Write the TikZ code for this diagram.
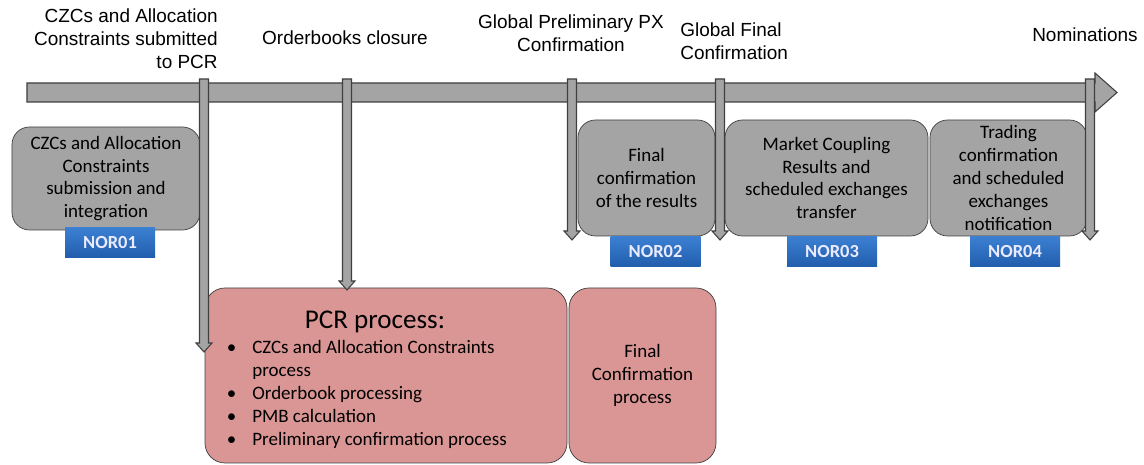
\documentclass[tikz,border=0pt]{standalone}
\usepackage{fontspec}
\setmainfont{Carlito}
\newfontfamily\arial{Liberation Sans}
\usetikzlibrary{positioning}
\definecolor{barGray}{HTML}{A4A4A4}
\definecolor{edgeGray}{HTML}{3F3F3F}
\definecolor{pcrPink}{HTML}{D99694}
\definecolor{norBlue}{HTML}{2E6DBE}
\definecolor{norTop}{HTML}{3C80D2}
\definecolor{norBottom}{HTML}{225DAD}

\begin{document}
\begin{tikzpicture}[
    stage/.style={draw=edgeGray, fill=barGray, rounded corners=0.35cm, align=center, inner sep=0pt, font=\fontsize{10.8}{13}\selectfont},
    proc/.style={draw=edgeGray, fill=pcrPink, rounded corners=0.4cm, inner sep=0pt, minimum height=3.5cm},
    tag/.style={top color=norTop, bottom color=norBottom, text=white!92!blue, inner sep=0pt, minimum width=1.8cm, minimum height=0.6cm, font=\bfseries\fontsize{10.5}{12}\selectfont},
    event/.style={inner sep=0pt, font=\arial\fontsize{10.8}{13}\selectfont},
    marker/.style={draw=edgeGray, fill=barGray, line width=0.6pt}
  ]
  \useasboundingbox (0,0) rectangle (22.88,9.3);

  % time line
  \draw[marker] (0.54,7.64) -- (21.9,7.64) -- (21.9,7.84) -- (22.34,7.45) -- (21.9,7.06) -- (21.9,7.26) -- (0.54,7.26) -- cycle;

  % events
  \node[event, align=right, anchor=east] (submitted) at (4.36,8.53) {CZCs and Allocation\\Constraints submitted\\to PCR};
  \node[event] (closure) at (6.9,8.54) {Orderbooks closure};
  \node[event, align=center] (prelim) at (11.42,8.63) {Global Preliminary PX\\Confirmation};
  \node[event, align=left, anchor=west] (globalfinal) at (13.6,8.48) {Global Final\\Confirmation};
  \node[event] (nominations) at (21.7,8.6) {Nominations};

  % stages
  \node[stage, minimum width=3.76cm, minimum height=2.06cm] (submission) at (2.12,5.73) {CZCs and Allocation\\Constraints\\submission and\\integration};
  \node[stage, minimum width=2.74cm, minimum height=2.32cm] (confirm) at (12.93,5.74) {Final\\confirmation\\of the results};
  \node[stage, minimum width=4.06cm, minimum height=2.32cm] (transfer) at (16.53,5.74) {Market Coupling\\Results and\\scheduled exchanges\\transfer};
  \node[stage, minimum width=3.14cm, minimum height=2.32cm] (notify) at (20.17,5.74) {Trading\\confirmation\\and scheduled\\exchanges\\notification};

  \node[tag] (nor1) at (2.2,4.45) {NOR01};
  \node[tag] (nor2) at (13.11,4.27) {NOR02};
  \node[tag] (nor3) at (16.64,4.27) {NOR03};
  \node[tag] (nor4) at (20.3,4.27) {NOR04};

  % processes
  \node[proc, minimum width=7.24cm] (pcr) at (7.72,1.79) {};
  \node[proc, minimum width=2.94cm, align=center, font=\fontsize{10.8}{13}\selectfont] (finalproc) at (12.85,1.79) {Final\\Confirmation\\process};
  \node[font=\fontsize{15.4}{18}\selectfont] (pcrtitle) at (7.5,2.86) {PCR process:};
  \node[anchor=north west, inner sep=0pt, font=\fontsize{10.8}{13}\selectfont] (pcritems) at (4.53,2.55) {%
    \begin{tabular}{@{}l@{}l@{}}
      \makebox[0.51cm][l]{\textbullet} & CZCs and Allocation Constraints\\
       & process\\
      \textbullet & Orderbook processing\\
      \textbullet & PMB calculation\\
      \textbullet & Preliminary confirmation process
    \end{tabular}};

  % markers
  \foreach \name/\x/\y in {czc/4.08/2.26, obk/6.94/3.5, gpx/11.44/4.5, gfc/14.4/4.5, nom/21.8/4.5} {
    \coordinate (\name-top) at (\x,7.72);
    \coordinate (\name-tip) at (\x,\y);
    \draw[marker] ([xshift=-0.09cm]\name-top) -- ([xshift=-0.09cm,yshift=0.18cm]\name-tip) -- ([xshift=-0.16cm,yshift=0.18cm]\name-tip) -- (\name-tip) -- ([xshift=0.16cm,yshift=0.18cm]\name-tip) -- ([xshift=0.09cm,yshift=0.18cm]\name-tip) -- ([xshift=0.09cm]\name-top) -- cycle;
  }
\end{tikzpicture}
\end{document}
